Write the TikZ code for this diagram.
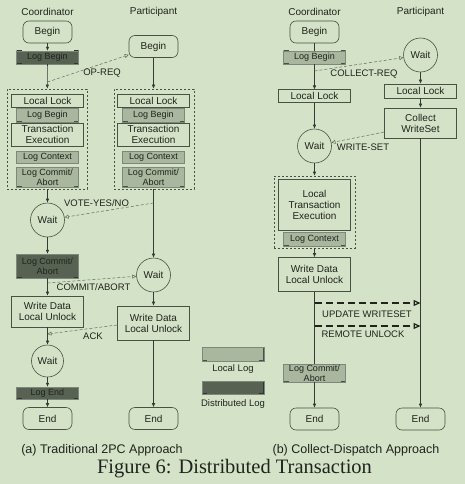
\documentclass[tikz,border=0pt]{standalone}
\usepackage{fontspec}
\setmainfont{Liberation Sans}
\newfontfamily\capfont{Liberation Serif}
\usetikzlibrary{arrows.meta}

\definecolor{paper}{RGB}{212,227,199}
\definecolor{boxline}{RGB}{72,82,68}
\definecolor{loclog}{RGB}{168,183,158}
\definecolor{distlog}{RGB}{88,98,83}
\definecolor{msgline}{RGB}{95,105,90}
\definecolor{ink}{RGB}{32,35,30}

\begin{document}
\begin{tikzpicture}[x=1pt, y=-1pt,
    every node/.style={text=ink},
    term/.style={draw=boxline, line width=0.6pt, rectangle, rounded corners=6pt, minimum width=49pt, minimum height=22pt, inner sep=0pt, font=\fontsize{10}{11}\selectfont},
    box/.style={draw=boxline, line width=0.6pt, rectangle, minimum width=72pt, minimum height=13pt, inner sep=0pt, align=center, font=\fontsize{10}{11}\selectfont},
    waitc/.style={draw=boxline, line width=0.6pt, circle, minimum size=34pt, inner sep=0pt, font=\fontsize{10}{11}\selectfont},
    logbase/.style={rectangle, draw=boxline!70, line width=0.3pt, minimum width=62pt, minimum height=13pt, inner sep=0pt, align=center, font=\fontsize{9}{10}\selectfont,
        path picture={\draw[line width=1.6pt, #1]
            ([xshift=5pt]path picture bounding box.north west) -- (path picture bounding box.north west)
            -- (path picture bounding box.south west) -- ([xshift=5pt]path picture bounding box.south west)
            ([xshift=-5pt]path picture bounding box.north east) -- (path picture bounding box.north east)
            -- (path picture bounding box.south east) -- ([xshift=-5pt]path picture bounding box.south east);}},
    llog/.style={logbase=boxline, fill=loclog},
    dlog/.style={logbase=black!80, fill=distlog},
    grp/.style={draw=boxline, line width=0.6pt, dash pattern=on 2pt off 2pt, rectangle, minimum width=80pt, minimum height=100pt, inner sep=0pt},
    flow/.style={draw=ink!90, line width=0.6pt, -{Latex[length=4pt, width=3.5pt]}},
    msg/.style={draw=msgline, line width=0.5pt, dash pattern=on 3pt off 2pt, -{Triangle[open, length=4pt, width=4pt]}},
    bigmsg/.style={draw=ink, line width=1.6pt, dash pattern=on 7pt off 4pt, -{Triangle[open, length=7pt, width=6pt, line width=1.2pt]}},
    lbl/.style={font=\fontsize{9.5}{11}\selectfont, inner sep=0pt},
    subcap/.style={font=\fontsize{12.5}{14}\selectfont, inner sep=0pt}
]
\useasboundingbox[fill=paper] (0,0) rectangle (465,484);

% (a) Traditional 2PC -- coordinator
\node (ca) at (47.5,12) {Coordinator};
\node[term] (cbeg) at (47.5,32) {Begin};
\node[dlog] (clogb) at (47.5,57.5) {Log Begin};
\node[grp] (cgrp) at (47,139) {};
\node[box] (clock) at (47.5,100.5) {Local Lock};
\node[llog, minimum height=14pt] (clogb2) at (47.5,115) {Log Begin};
\node[box, minimum height=23pt] (cexec) at (47.5,134.5) {Transaction\\Execution};
\node[llog, minimum height=12pt] (cctx) at (47.5,157.5) {Log Context};
\node[llog, minimum height=20pt] (ccom) at (47.5,177) {Log Commit/\\Abort};
\node[waitc] (cwait) at (47.5,220) {Wait};
\node[dlog, minimum height=24pt] (ccom2) at (47.5,266) {Log Commit/\\Abort};
\node[box, minimum height=31pt] (cwrite) at (47.5,311.5) {Write Data\\Local Unlock};
\node[waitc, minimum size=32pt] (cwait2) at (47.5,361) {Wait};
\node[dlog, minimum height=12pt] (clogend) at (47.5,393) {Log End};
\node[term] (cend) at (47.5,418.5) {End};

% (a) Traditional 2PC -- participant
\node (pa) at (153.5,12) {Participant};
\node[term] (pbeg) at (153.5,46.5) {Begin};
\node[grp] (pgrp) at (154,139) {};
\node[box] (plock) at (153.5,100.5) {Local Lock};
\node[llog, minimum height=14pt] (plogb) at (153.5,115) {Log Begin};
\node[box, minimum height=23pt] (pexec) at (153.5,134.5) {Transaction\\Execution};
\node[llog, minimum height=12pt] (pctx) at (153.5,157.5) {Log Context};
\node[llog, minimum height=20pt] (pcom) at (153.5,177) {Log Commit/\\Abort};
\node[waitc] (pwait) at (153.5,275) {Wait};
\node[box, minimum height=34pt] (pwrite) at (153.5,323) {Write Data\\Local Unlock};
\node[term] (pend) at (153.5,418.5) {End};

\draw[flow] (cbeg) -- (clogb);
\draw[flow] (clogb) -- (cgrp);
\draw[flow] (cgrp.south -| cwait) -- (cwait);
\draw[flow] (cwait) -- (ccom2);
\draw[flow] (ccom2) -- (cwrite);
\draw[flow] (cwrite) -- (cwait2);
\draw[flow] (cwait2) -- (clogend);
\draw[flow] (clogend) -- (cend);
\draw[flow] (pbeg) -- (pbeg |- pgrp.north);
\draw[flow] (pbeg |- pgrp.south) -- (pwait);
\draw[flow] (pwait) -- (pwrite);
\draw[flow] (pwrite) -- (pend);

% messages
\coordinate (opreq) at (47.5,82);
\coordinate (vote) at (153.5,203);
\coordinate (commit) at (47.5,283);
\coordinate (ack) at (47.5,334);
\draw[msg] (opreq) -- (pbeg);
\node[lbl] (lopreq) at (102,73) {OP-REQ};
\draw[msg] (vote) -- (cwait);
\node[lbl] (lvote) at (96.5,203) {VOTE-YES/NO};
\draw[msg] (commit) -- (pwait);
\node[lbl] (lcommit) at (93.5,287) {COMMIT/ABORT};
\draw[msg] ([yshift=-2pt]pwrite.west) -- (ack);
\node[lbl] (lack) at (93,336) {ACK};

% legend
\node[llog, minimum height=14pt] (leglocal) at (233,354) {};
\node[lbl] (lleglocal) at (233,369) {Local Log};
\node[dlog, minimum height=13pt] (legdist) at (233,387.5) {};
\node[lbl] (llegdist) at (233,404) {Distributed Log};

% (b) Collect-Dispatch -- coordinator
\node (cb) at (314.5,12) {Coordinator};
\node[term] (bcbeg) at (314.5,32) {Begin};
\node[llog] (bclogb) at (314.5,57.5) {Log Begin};
\node[box, minimum height=12.5pt] (bclock) at (314.5,96) {Local Lock};
\node[waitc] (bcwait) at (314.5,146) {Wait};
\node[grp, minimum width=81pt, minimum height=72pt] (bcgrp) at (314.5,212) {};
\node[box, minimum height=51pt] (bcexec) at (314.5,204.5) {Local\\Transaction\\Execution};
\node[llog, minimum height=14pt] (bcctx) at (314.5,239) {Log Context};
\node[box, minimum height=34pt] (bcwrite) at (314.5,274.5) {Write Data\\Local Unlock};
\node[llog, minimum height=18pt] (bccom) at (314.5,373) {Log Commit/\\Abort};
\node[term] (bcend) at (314.5,419) {End};

% (b) Collect-Dispatch -- participant
\node (pb) at (420.5,12) {Participant};
\node[waitc] (bpwait) at (420.5,55) {Wait};
\node[box, minimum height=14pt] (bplock) at (420.5,91) {Local Lock};
\node[box, minimum height=30pt] (bpcol) at (420.5,123) {Collect\\WriteSet};
\node[term] (bpend) at (420.5,419) {End};

\draw[draw=ink!90, line width=0.6pt] (bcbeg) -- (bclogb);
\draw[flow] (bclogb) -- (bclock);
\draw[flow] (bclock) -- (bcwait);
\draw[flow] (bcwait) -- (bcgrp);
\draw[flow] (bcgrp) -- (bcwrite);
\draw[draw=ink!90, line width=0.6pt] (bcwrite) -- (bccom);
\draw[flow] (bccom) -- (bcend);
\draw[flow] (bpwait) -- (bplock);
\draw[flow] (bplock) -- (bpcol);
\draw[flow] (bpcol) -- (bpend);

% messages
\coordinate (collect) at (314.5,71);
\coordinate (upd) at (314.5,303);
\coordinate (updto) at (420.5,303);
\coordinate (unl) at (314.5,326);
\coordinate (unlto) at (420.5,326);
\draw[msg] (collect) -- (bpwait);
\node[lbl] (lcollect) at (364,74) {COLLECT-REQ};
\draw[msg] ([yshift=-9pt]bpcol.west) -- (bcwait);
\node[lbl] (lwset) at (363,147) {WRITE-SET};
\draw[bigmsg] (upd) -- (updto);
\node[lbl] (lupd) at (367,314) {UPDATE WRITESET};
\draw[bigmsg] (unl) -- (unlto);
\node[lbl] (lunl) at (363,334) {REMOTE UNLOCK};

% captions
\node[subcap] (capa) at (102,450) {(a) Traditional 2PC Approach};
\node[subcap] (capb) at (356,450) {(b) Collect-Dispatch Approach};
\node[inner sep=0pt, font=\capfont\fontsize{20.5}{24}\selectfont] (fig) at (234.5,469) {Figure 6: Distributed Transaction};
\end{tikzpicture}
\end{document}
